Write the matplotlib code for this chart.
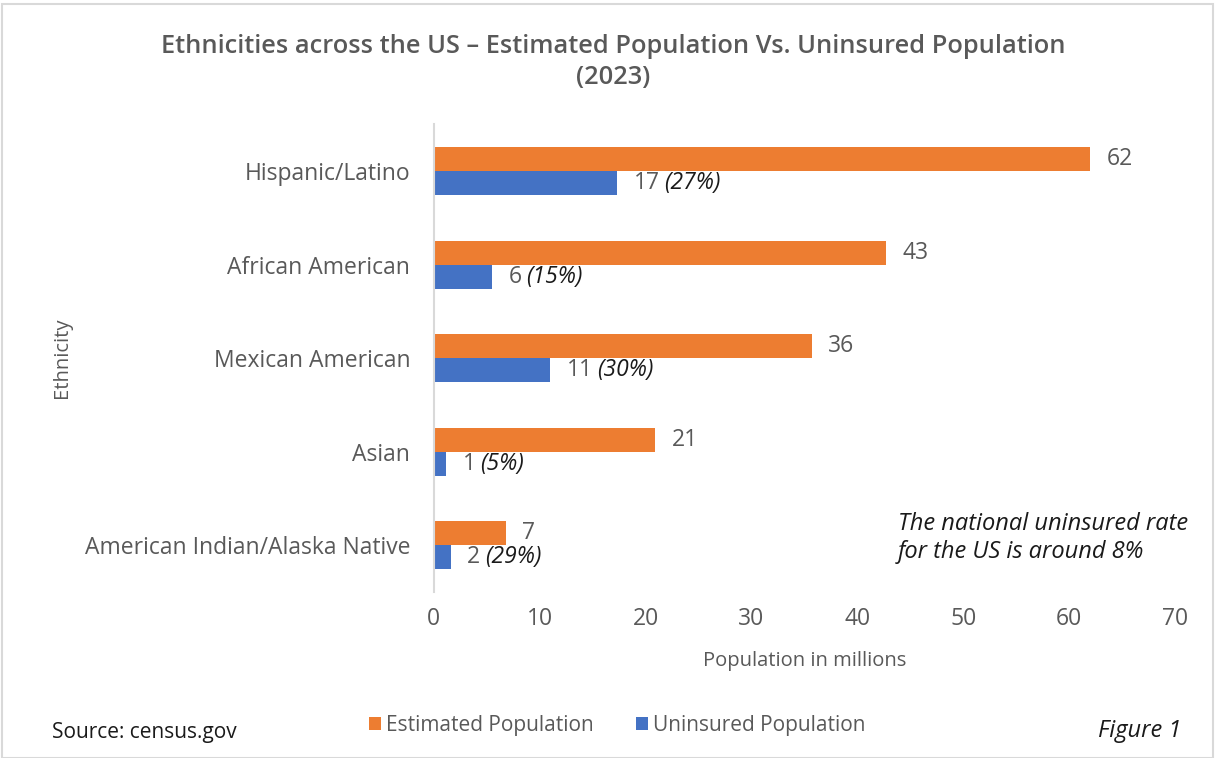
import matplotlib
matplotlib.use("Agg")
import matplotlib.pyplot as plt
from matplotlib.patches import Rectangle

plt.rcParams['font.family'] = ['Open Sans', 'DejaVu Sans']

# data (millions)
ethnicities = ['Hispanic/Latino', 'African American', 'Mexican American',
               'Asian', 'American Indian/Alaska Native']
estimated = [62.0, 42.7, 35.7, 20.9, 6.8]
uninsured = [17.35, 5.5, 11.0, 1.2, 1.6]
uninsured_pct = ['(27%)', '(15%)', '(30%)', '(5%)', '(29%)']

orange = '#ED7D31'
blue = '#4472C4'
grey = '#595959'

fig = plt.figure(figsize=(12.15, 7.58), dpi=100)
ax = fig.add_axes([0.357, 0.219, 0.610, 0.617])

# light frame like the pasted chart box
fig.patches.append(Rectangle((0.002, 0.0), 0.996, 0.995, transform=fig.transFigure,
                             fill=False, edgecolor='#D9D9D9', linewidth=1.5))

y = list(range(len(ethnicities)))
h = 0.257
bars_est = ax.barh([i - h / 2 for i in y], estimated, height=h, color=orange,
                   label='Estimated Population')
bars_un = ax.barh([i + h / 2 for i in y], uninsured, height=h, color=blue,
                  label='Uninsured Population')

ax.set_xlim(0, 70)
ax.set_ylim(4.5, -0.5)
ax.set_yticks(y)
ax.set_yticklabels(ethnicities, fontsize=16.5, color=grey)
ax.set_xticks(range(0, 71, 10))
ax.tick_params(axis='x', labelsize=16.5, labelcolor=grey, length=0, pad=11)
ax.tick_params(axis='y', length=0, pad=17)
for s in ['top', 'right', 'bottom']:
    ax.spines[s].set_visible(False)
ax.spines['left'].set_color('#D9D9D9')
ax.spines['left'].set_linewidth(1.5)

ax.set_xlabel('Population in millions', fontsize=14.5, color=grey, labelpad=14)
ax.set_ylabel('Ethnicity', fontsize=14.5, color=grey, labelpad=9)

# value labels
for b, v in zip(bars_est, estimated):
    ax.annotate(f'{round(v)}', xy=(b.get_width(), b.get_y() + b.get_height() / 2),
                xytext=(12, 0), textcoords='offset points', va='center',
                fontsize=16.5, color=grey)
for b, v, p in zip(bars_un, uninsured, uninsured_pct):
    t = ax.annotate(f'{round(v)}', xy=(b.get_width(), b.get_y() + b.get_height() / 2),
                    xytext=(12, 0), textcoords='offset points', va='center',
                    fontsize=16.5, color=grey)
    ax.annotate(p, xy=(1, 0.5), xycoords=t, xytext=(3, 0), textcoords='offset points',
                va='center', fontsize=16.5, color='#1a1a1a', style='italic')

fig.suptitle('Ethnicities across the US \u2013 Estimated Population Vs. Uninsured Population\n(2023)',
             x=0.505, y=0.955, fontsize=18.3, fontweight='semibold', color=grey, linespacing=1.3)

fig.text(0.739, 0.290, 'The national uninsured rate\nfor the US is around 8%',
         fontsize=17, style='italic', color='#1a1a1a', va='center', ha='left', linespacing=1.2)

fig.legend(loc='center', bbox_to_anchor=(0.508, 0.043), ncol=2, frameon=False,
           fontsize=15, handlelength=0.6, handleheight=0.6, handletextpad=0.25,
           columnspacing=2.0, labelcolor=grey)

fig.text(0.043, 0.033, 'Source: census.gov', fontsize=15, color='#1a1a1a', va='center')
fig.text(0.972, 0.036, 'Figure 1', fontsize=17, style='italic', color='#1a1a1a',
         va='center', ha='right')

fig.savefig('out.png', dpi=100)
